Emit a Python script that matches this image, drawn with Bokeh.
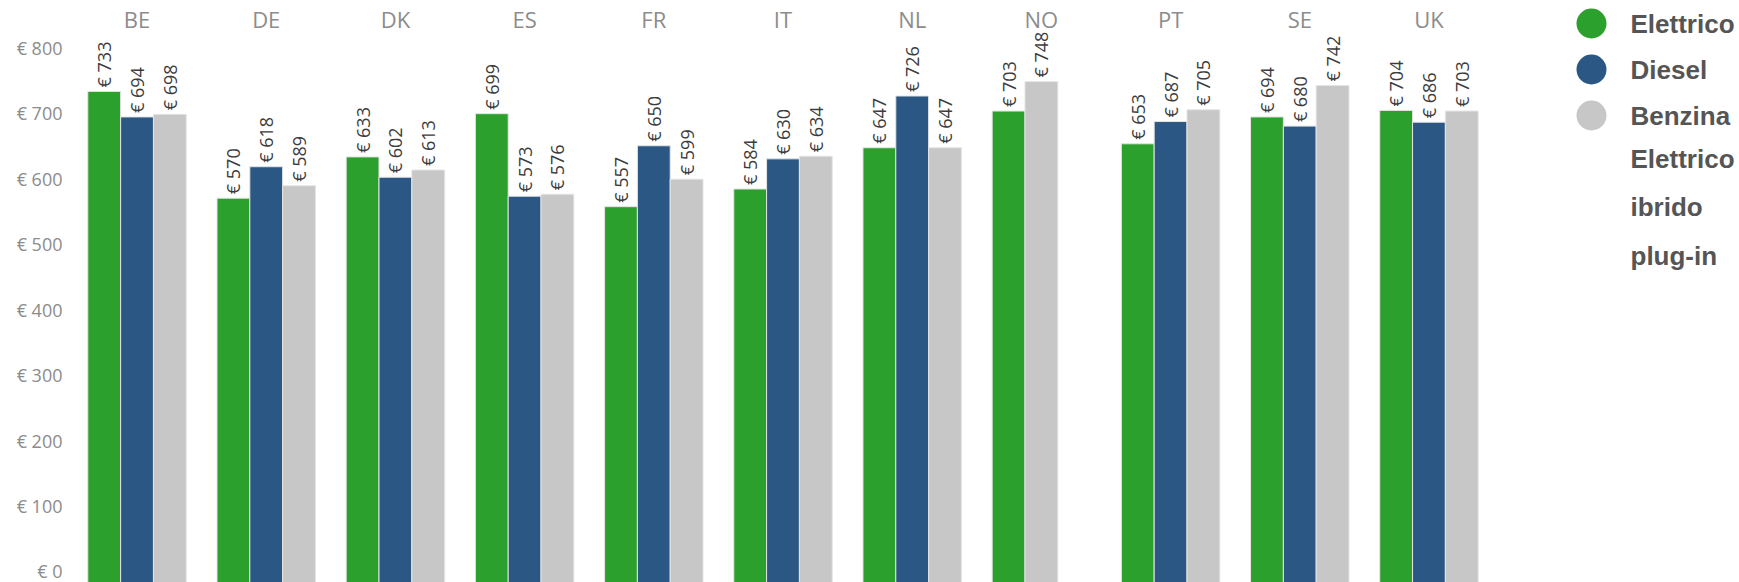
import math
from bokeh.plotting import figure
from bokeh.models import FactorRange, Range1d, ColumnDataSource, PrintfTickFormatter, FixedTicker
from bokeh.transform import dodge
from bokeh.layouts import row
from bokeh.embed import file_html
from bokeh.resources import INLINE
from bokeh.core.properties import value

# ---------------- data ----------------
countries = ["BE", "DE", "DK", "ES", "FR", "IT", "NL", "NO", "PT", "SE", "UK"]
series = ["Elettrico", "Diesel", "Benzina"]
elettrico = [733, 570, 633, 699, 557, 584, 647, 703, 653, 694, 704]
diesel = [694, 618, 602, 573, 650, 630, 726, None, 687, 680, 686]
benzina = [698, 589, 613, 576, 599, 634, 647, 748, 705, 742, 703]
series_colors = ["#2ca02c", "#2a5783", "#c7c7c7"]
legend_labels = ["Elettrico", "Diesel", "Benzina", "Elettrico\nibrido\nplug-in"]
legend_colors = ["#2ca02c", "#2a5783", "#c7c7c7", "#ffffff"]
y_ticks = [0, 100, 200, 300, 400, 500, 600, 700, 800]

# ---------------- layout constants ----------------
MAIN_W = 1495
LEG_W = 244
H = 582
SLOT = 0.254
FONT = "Open Sans"

values_by_series = [elettrico, diesel, benzina]

# bars are placed in consecutive slots per country (missing series are skipped)
slots = [dict(x=[], top=[], color=[], label=[]) for _ in range(3)]
for ci, c in enumerate(countries):
    k = 0
    for si in range(len(series)):
        v = values_by_series[si][ci]
        if v is None:
            continue
        slots[k]["x"].append(c)
        slots[k]["top"].append(v)
        slots[k]["color"].append(series_colors[si])
        slots[k]["label"].append("€ %d" % v)
        k += 1

Y0 = -16.8
p = figure(
    width=MAIN_W, height=H, title=None,
    x_range=FactorRange(factors=countries, range_padding=0.015, range_padding_units="absolute"),
    y_range=Range1d(Y0, 871.8),
    x_axis_location="above",
    output_backend="svg", toolbar_location=None,
    min_border_left=70, min_border_right=0, min_border_top=0, min_border_bottom=0,
)
p.outline_line_color = None
p.grid.grid_line_color = None

for k in range(3):
    src = ColumnDataSource(slots[k])
    xx = dodge("x", (k - 1) * SLOT, range=p.x_range)
    p.vbar(x=xx, top="top", bottom=Y0, width=SLOT, source=src,
           fill_color="color", line_color="#e4e4e4", line_width=1)
    p.text(x=xx, y="top", text="label", source=src, angle=math.pi / 2,
           text_align="left", text_baseline="middle", y_offset=-4,
           text_font=value(FONT), text_font_size="18px", text_color="#3c3c3c")

# x axis (countries) on top
xa = p.xaxis[0]
xa.axis_line_color = None
xa.major_tick_line_color = None
xa.minor_tick_line_color = None
xa.major_tick_out = 0
xa.major_label_text_font = FONT
xa.major_label_text_font_size = "22px"
xa.major_label_text_color = "#8c8c8c"
xa.major_label_standoff = -33

ya = p.yaxis[0]
ya.ticker = FixedTicker(ticks=y_ticks)
ya.formatter = PrintfTickFormatter(format="€ %d")
ya.axis_line_color = None
ya.major_tick_line_color = None
ya.minor_tick_line_color = None
ya.major_tick_out = 0
ya.major_label_text_font = FONT
ya.major_label_text_font_size = "18px"
ya.major_label_text_color = "#8c8c8c"
ya.major_label_standoff = 8

# ---------------- legend panel ----------------
PITCH = 46.0
TOP_CENTER = 23.0
y_top = -TOP_CENTER / PITCH
y_bot = y_top + H / PITCH
leg = figure(width=LEG_W, height=H, title=None,
             x_range=Range1d(0, LEG_W), y_range=Range1d(y_bot, y_top),
             output_backend="svg", toolbar_location=None,
             min_border_left=0, min_border_right=0, min_border_top=0, min_border_bottom=0)
leg.axis.visible = False
leg.grid.grid_line_color = None
leg.outline_line_color = None

line_pos = []
cur = 0
for lab in legend_labels:
    n = lab.count("\n") + 1
    line_pos.append(cur + (n - 1) / 2.0)
    cur += n
lsrc = ColumnDataSource(dict(y=line_pos, color=legend_colors, label=legend_labels,
                             x=[96] * len(legend_labels), tx=[135] * len(legend_labels)))
leg.scatter(x="x", y="y", size=30, marker="circle", fill_color="color", line_color=None, source=lsrc)
leg.text(x="tx", y="y", text="label", source=lsrc, text_align="left", text_baseline="middle",
         text_font=value("Liberation Sans"), text_font_style="bold", text_font_size="26px",
         text_color="#555555", text_line_height=1.63)

layout = row(p, leg)
open("out.html", "w").write(file_html(layout, INLINE))
